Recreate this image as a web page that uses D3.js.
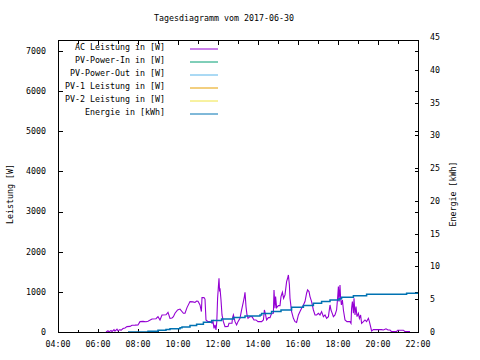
<!DOCTYPE html>
<html><head><meta charset="utf-8">
<script src="https://cdn.jsdelivr.net/npm/d3@7"></script>
<style>
html,body{margin:0;padding:0;background:#fff;}
svg{display:block;}
text{font-family:"DejaVu Sans Mono",monospace;font-size:8.3px;fill:#000;}
</style></head>
<body>
<div id="chart"></div>
<script>
// ---------- data ----------
const title = "Tagesdiagramm vom 2017-06-30";
const leftTicks = [0,1000,2000,3000,4000,5000,6000,7000];
const rightTicks = [0,5,10,15,20,25,30,35,40,45];
const xTickHours = [4,6,8,10,12,14,16,18,20,22];
const xTickLabels = ["04:00","06:00","08:00","10:00","12:00","14:00","16:00","18:00","20:00","22:00"];
const legendLabels = ["AC Leistung in [W]","PV-Power-In in [W]","PV-Power-Out in [W]","PV-1 Leistung in [W]","PV-2 Leistung in [W]","Energie in [kWh]"];
const legendColors = ["#9400d3","#009e73","#56b4e9","#e69f00","#f0e442","#0072b2"];

// AC Leistung [W] (hour of day, watts)
const acHours = [6.40,6.50,6.55,6.65,6.70,6.80,6.85,6.95,7.00,7.10,7.15,7.25,7.35,7.45,7.60,7.70,7.85,8.00,8.10,8.25,8.40,8.50,8.70,8.90,9.00,9.10,9.20,9.40,9.50,9.60,9.70,9.77,9.85,9.98,10.10,10.27,10.35,10.45,10.60,10.75,10.85,10.93,11.00,11.10,11.17,11.20,11.30,11.35,11.40,11.50,11.60,11.70,11.75,11.80,11.85,11.90,11.94,11.98,12.02,12.05,12.08,12.10,12.15,12.20,12.27,12.35,12.50,12.55,12.70,12.72,12.77,12.85,12.93,13.00,13.10,13.17,13.27,13.32,13.35,13.40,13.45,13.50,13.60,13.70,13.80,13.90,14.00,14.18,14.27,14.32,14.38,14.43,14.52,14.60,14.68,14.77,14.80,14.85,14.88,14.93,15.02,15.10,15.15,15.22,15.28,15.35,15.43,15.48,15.52,15.57,15.60,15.68,15.77,15.85,15.93,16.02,16.10,16.18,16.27,16.35,16.43,16.48,16.55,16.60,16.68,16.77,16.85,16.93,17.02,17.10,17.18,17.27,17.35,17.43,17.52,17.60,17.65,17.68,17.77,17.85,17.93,17.98,18.02,18.05,18.08,18.10,18.13,18.17,18.22,18.27,18.35,18.45,18.60,18.65,18.68,18.72,18.77,18.80,18.85,18.90,18.95,19.02,19.07,19.13,19.18,19.27,19.35,19.43,19.52,19.57,19.63,19.68,19.77,20.18,20.27,20.40,20.50,20.60,20.68,20.93,20.98,21.27,21.35,21.60];
const acWatts = [0,30,0,40,10,60,20,70,30,60,40,85,100,135,140,167,170,175,258,265,255,270,325,330,383,300,424,430,490,340,350,383,466,548,570,466,470,607,757,750,735,770,765,673,508,857,860,820,300,258,260,220,270,92,175,50,258,840,1130,1338,1006,1090,797,424,258,134,140,217,217,340,424,258,175,258,340,524,757,882,989,632,424,340,383,383,300,300,258,258,300,548,424,300,357,357,466,466,1048,590,882,607,657,657,882,989,840,924,1255,1338,1420,1170,840,508,340,258,240,424,508,590,673,757,965,1048,1006,882,757,548,424,424,466,424,508,383,424,340,383,673,548,508,383,424,548,840,1130,757,1006,1172,840,673,797,548,300,258,258,217,590,757,466,840,424,632,383,466,340,424,217,258,300,258,340,258,134,25,60,60,50,80,50,50,10,10,45,45,10,10];

// Energie [kWh] (hour of day, kWh) – step values
const enHours = [7.50,8.50,9.00,9.40,9.60,10.10,10.20,10.60,10.93,11.27,11.68,12.18,12.77,13.35,14.10,14.18,14.68,15.15,15.68,16.27,16.77,17.18,17.60,18.05,18.18,18.77,19.43,21.43,22.00];
const enKWh  = [0,0.10,0.25,0.40,0.50,0.65,0.76,0.98,1.18,1.48,1.74,1.99,2.20,2.45,2.60,2.81,3.12,3.37,3.78,4.03,4.39,4.65,4.90,5.08,5.30,5.55,5.75,5.90,5.90];

// ---------- chart ----------
const W = 480, H = 360;
const L = 58, R = 418, T = 40, B = 332;
const svg = d3.select("#chart").append("svg").attr("width", W).attr("height", H);

const x = d3.scaleLinear().domain([4, 22]).range([L, R]);
const yL = d3.scaleLinear().domain([0, 7270]).range([B, T]);
const yR = d3.scaleLinear().domain([0, 44.58]).range([B, T]);

const g = svg.append("g").attr("shape-rendering", "crispEdges").attr("stroke", "#000").attr("stroke-width", 1);
const px = v => Math.round(v) + 0.5;

// ticks: bottom & top (hourly)
d3.range(4, 23).forEach(h => {
  const xx = px(x(h));
  const len = (h % 2 === 0) ? 4 : 3;
  g.append("line").attr("x1", xx).attr("x2", xx).attr("y1", px(B)).attr("y2", px(B) - len);
  g.append("line").attr("x1", xx).attr("x2", xx).attr("y1", px(T)).attr("y2", px(T) + len);
});
// left ticks + mirrored on right
leftTicks.forEach(v => {
  const yy = px(yL(v));
  g.append("line").attr("x1", px(L)).attr("x2", px(L) + 4).attr("y1", yy).attr("y2", yy);
  g.append("line").attr("x1", px(R)).attr("x2", px(R) - 4).attr("y1", yy).attr("y2", yy);
});
// right (y2) ticks
rightTicks.forEach(v => {
  if (v > yR.domain()[1]) return;
  const yy = px(yR(v));
  g.append("line").attr("x1", px(R)).attr("x2", px(R) - 4).attr("y1", yy).attr("y2", yy);
});

// tick labels
svg.append("g").selectAll("text").data(leftTicks).join("text")
  .attr("x", 46).attr("y", d => yL(d)).attr("dy", "0.35em").attr("text-anchor", "end").text(d => d);
svg.append("g").selectAll("text").data(rightTicks).join("text")
  .attr("x", 430).attr("y", d => yR(d)).attr("dy", "0.35em").attr("text-anchor", "start").text(d => d);
svg.append("g").selectAll("text").data(xTickHours).join("text")
  .attr("x", d => x(d)).attr("y", 347).attr("text-anchor", "middle").text((d, i) => xTickLabels[i]);

// title & axis labels
svg.append("text").attr("x", 224).attr("y", 21).attr("text-anchor", "middle").text(title);
svg.append("text").attr("transform", "translate(13,194) rotate(-90)").attr("text-anchor", "middle").text("Leistung [W]");
svg.append("text").attr("transform", "translate(456,194) rotate(-90)").attr("text-anchor", "middle").text("Energie [kWh]");

// data lines
const acData = acHours.map((h, i) => [h, acWatts[i]]);
const enData = enHours.map((h, i) => [h, enKWh[i]]);
svg.append("path").datum(acData)
  .attr("fill", "none").attr("stroke", legendColors[0]).attr("stroke-width", 1.1)
  .attr("d", d3.line().x(d => x(d[0])).y(d => yL(d[1])));
svg.append("path").datum(enData)
  .attr("fill", "none").attr("stroke", legendColors[5]).attr("stroke-width", 1.5)
  .attr("d", d3.line().curve(d3.curveStepAfter).x(d => x(d[0])).y(d => yR(d[1])));

// frame
svg.append("rect").attr("x", px(L)).attr("y", px(T)).attr("width", Math.round(R - L)).attr("height", Math.round(B - T))
  .attr("fill", "none").attr("stroke", "#000").attr("shape-rendering", "crispEdges");

// legend
const lg = svg.append("g");
legendLabels.forEach((lab, i) => {
  const yy = 50 + i * 13;
  lg.append("text").attr("x", 165).attr("y", yy).attr("text-anchor", "end").text(lab);
  lg.append("line").attr("x1", 190).attr("x2", 218).attr("y1", yy - 1).attr("y2", yy - 1)
    .attr("stroke", legendColors[i]).attr("stroke-width", 1);
});
</script>
</body></html>
